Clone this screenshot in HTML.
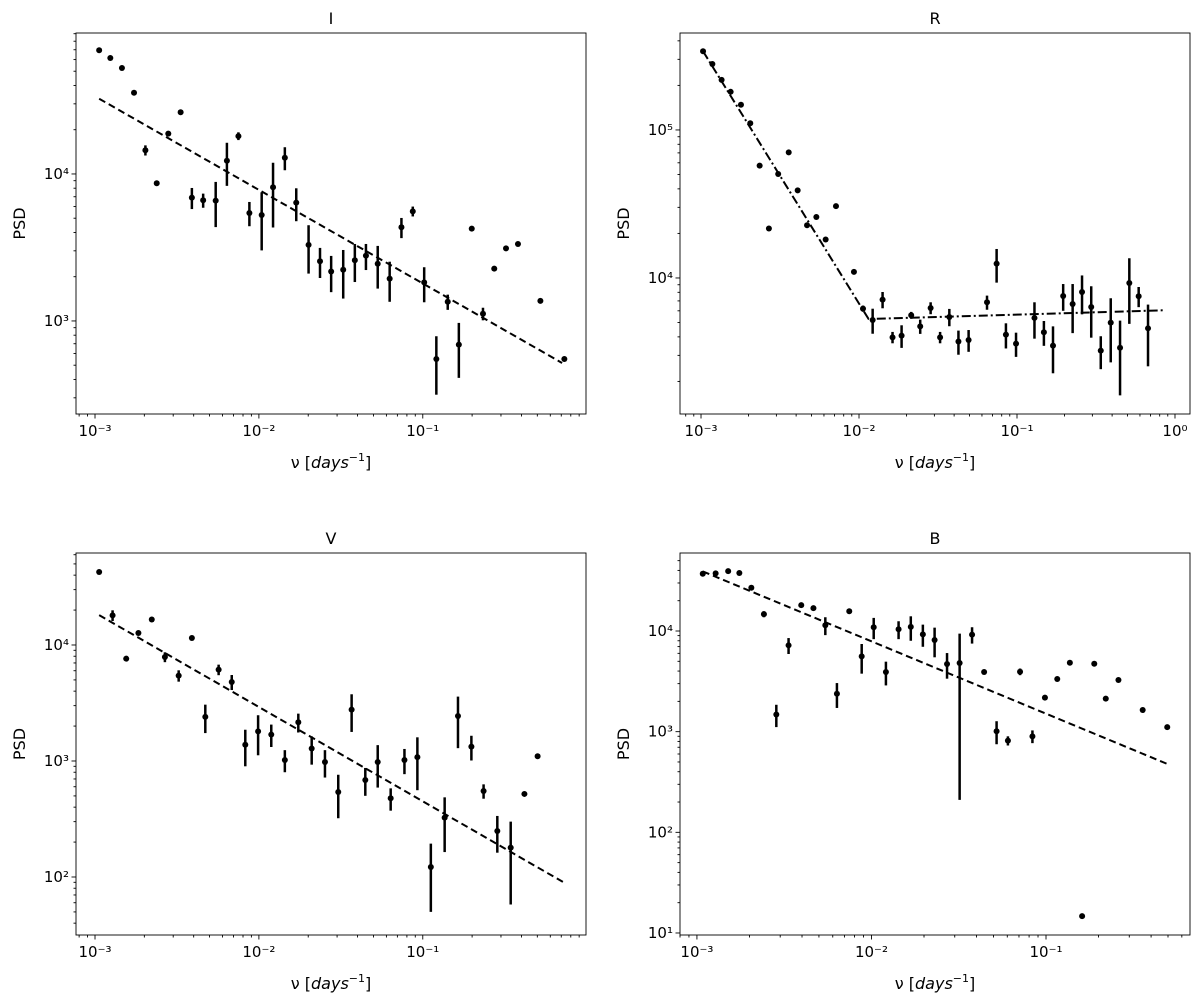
<!DOCTYPE html>
<html><head><meta charset="utf-8"><style>
body{margin:0;background:#fff;}
svg{display:block;font-family:"DejaVu Sans","Liberation Sans",sans-serif;}
</style></head><body>
<svg id="fig" width="1200" height="1005" viewBox="0 0 1200 1005" xmlns="http://www.w3.org/2000/svg"></svg>
<script>
// ---- Panel I ----
const iFreq=[1.06e-3,1.24e-3,1.46e-3,1.73e-3,2.03e-3,2.38e-3,2.80e-3,3.33e-3,3.90e-3,4.57e-3,5.45e-3,6.38e-3,7.50e-3,8.75e-3,1.04e-2,1.22e-2,1.44e-2,1.69e-2,2.01e-2,2.36e-2,2.76e-2,3.27e-2,3.85e-2,4.50e-2,5.31e-2,6.28e-2,7.41e-2,8.69e-2,0.102,0.121,0.142,0.166,0.199,0.233,0.273,0.322,0.381,0.522,0.731];
const iPsd=[69400,61500,52600,35700,14500,8640,18800,26300,6900,6620,6590,12300,18100,5430,5260,8120,12900,6380,3290,2550,2170,2230,2590,2780,2450,1940,4340,5570,1830,551,1350,690,4250,1120,2270,3120,3340,1370,551];
const iErr=[0,0,0,0,1150,0,0,0,1130,730,2240,4000,1100,1020,2240,3800,2300,1610,1190,590,600,810,750,560,790,590,680,430,490,236,160,280,0,110,0,0,0,0,0];
const iFitX=[0.00106,0.708];
const iFitY=[32500,518];
// ---- Panel R ----
const rFreq=[1.03e-3,1.18e-3,1.35e-3,1.54e-3,1.79e-3,2.05e-3,2.35e-3,2.69e-3,3.08e-3,3.59e-3,4.09e-3,4.69e-3,5.37e-3,6.15e-3,7.15e-3,9.29e-3,1.06e-2,1.22e-2,1.41e-2,1.63e-2,1.86e-2,2.14e-2,2.44e-2,2.84e-2,3.26e-2,3.73e-2,4.26e-2,4.94e-2,6.46e-2,7.43e-2,8.51e-2,9.86e-2,0.129,0.148,0.169,0.196,0.225,0.258,0.295,0.339,0.392,0.449,0.514,0.589,0.675];
const rPsd=[340000,279000,218000,181000,148000,111000,57400,21600,50400,70600,39100,22700,25800,18200,30600,11000,6210,5200,7140,3970,4080,5600,4710,6270,3970,5450,3720,3810,6850,12500,4140,3600,5370,4300,3490,7550,6670,8040,6370,3230,4990,3380,9250,7520,4570];
const rErr=[0,0,0,0,0,0,0,0,0,0,0,0,0,0,0,0,300,1000,900,350,710,300,520,580,350,730,690,640,750,3200,800,670,1480,820,1220,1550,2430,2360,2420,810,2300,1770,4350,1170,2040];
const rFitX=[1.03e-3,1.15e-2,0.843];
const rFitY=[340000,5280,6050];
// ---- Panel V ----
const vFreq=[1.06e-3,1.28e-3,1.55e-3,1.84e-3,2.22e-3,2.67e-3,3.24e-3,3.90e-3,4.71e-3,5.68e-3,6.83e-3,8.26e-3,9.89e-3,1.19e-2,1.44e-2,1.74e-2,2.10e-2,2.53e-2,3.05e-2,3.68e-2,4.46e-2,5.31e-2,6.37e-2,7.73e-2,9.27e-2,0.112,0.136,0.164,0.198,0.235,0.285,0.344,0.417,0.502];
const vPsd=[42600,18000,7620,12700,16600,7880,5440,11500,2400,6130,4800,1380,1800,1690,1020,2160,1280,980,541,2770,686,980,477,1020,1080,122,325,2440,1330,551,249,179,520,1100];
const vErr=[0,1900,0,0,0,770,610,0,660,640,710,480,680,370,220,400,350,260,220,990,185,390,104,250,520,72,161,1150,320,78,87,121,0,0];
const vFitX=[1.06e-3,0.724];
const vFitY=[18100,89.9];
// ---- Panel B ----
const bFreq=[1.08e-3,1.28e-3,1.51e-3,1.75e-3,2.05e-3,2.42e-3,2.85e-3,3.35e-3,3.96e-3,4.65e-3,5.44e-3,6.34e-3,7.46e-3,8.79e-3,1.03e-2,1.21e-2,1.43e-2,1.68e-2,1.97e-2,2.30e-2,2.71e-2,3.20e-2,3.77e-2,4.42e-2,5.21e-2,6.05e-2,7.10e-2,8.36e-2,9.86e-2,0.116,0.137,0.161,0.189,0.220,0.260,0.358,0.495];
const bPsd=[37100,37400,39400,37700,26900,14700,1480,7210,18100,16900,11400,2380,15700,5600,10900,3920,10400,11000,9270,8140,4700,4810,9200,3920,1010,814,3940,899,2180,3340,4840,14.7,4730,2130,3260,1640,1110];
const bErr=[0,0,0,0,0,1000,370,1300,0,0,2300,660,0,1830,2600,1040,2100,3000,2300,2660,1340,4600,1700,0,260,85,300,130,0,0,0,0,0,0,0,0,0];
const bFitX=[1.08e-3,0.491];
const bFitY=[39100,481];

const NS="http://www.w3.org/2000/svg";
const svg=document.getElementById('fig');
function mk(tag,attrs,parent){const e=document.createElementNS(NS,tag);for(const k in attrs)e.setAttribute(k,attrs[k]);(parent||svg).appendChild(e);return e;}
const sup={'-':'\u207B','0':'\u2070','1':'\u00B9','2':'\u00B2','3':'\u00B3','4':'\u2074','5':'\u2075'};
function panel(cfg){
  const g=mk('g',{});
  
  
  const L=cfg.box[0],T=cfg.box[1],R=cfg.box[2],B=cfg.box[3];
  const X=f=>L+(Math.log10(f)-cfg.xr[0])/(cfg.xr[1]-cfg.xr[0])*(R-L);
  const Y=p=>B-(Math.log10(p)-cfg.yr[0])/(cfg.yr[1]-cfg.yr[0])*(B-T);
  const clip='clip-'+cfg.name;
  const cp=mk('clipPath',{id:clip},g);mk('rect',{x:L,y:T,width:R-L,height:B-T},cp);
  for(let d=Math.floor(cfg.xr[0]);d<=Math.ceil(cfg.xr[1]);d++){
    for(let m=1;m<10;m++){
      const lv=d+Math.log10(m); if(lv<cfg.xr[0]||lv>cfg.xr[1])continue;
      const x=X(Math.pow(10,lv));
      const t=mk('line',{x1:x,x2:x,y1:B,y2:B+(m==1?4.5:2.5),stroke:'#000','stroke-width':0.9},g);
      
      
      if(m==1){const tx=mk('text',{x:x,y:B+22,'text-anchor':'middle','font-size':15},g);tx.textContent='10'+(''+d).split('').map(c=>sup[c]).join('');
        
        }
    }
  }
  for(let d=Math.floor(cfg.yr[0]);d<=Math.ceil(cfg.yr[1]);d++){
    for(let m=1;m<10;m++){
      const lv=d+Math.log10(m); if(lv<cfg.yr[0]||lv>cfg.yr[1])continue;
      const y=Y(Math.pow(10,lv));
      const t=mk('line',{x1:L,x2:L-(m==1?4.5:2.5),y1:y,y2:y,stroke:'#000','stroke-width':0.9},g);
      
      
      if(m==1){const tx=mk('text',{x:L-7,y:y+5,'text-anchor':'end','font-size':15},g);tx.textContent='10'+(''+d).split('').map(c=>sup[c]).join('');
        
        }
    }
  }
  const pg=mk('g',{'clip-path':'url(#'+clip+')'},g);
  const pts=cfg.fx.map((f,i)=>X(f)+','+Y(cfg.fy[i])).join(' ');
  const fl=mk('polyline',{points:pts,fill:'none',stroke:'#000','stroke-width':2,'stroke-dasharray':cfg.dash},pg);
  
  
  cfg.f.forEach((f,i)=>{
    const x=X(f),y=Y(cfg.p[i]),e=cfg.e[i];
    if(e>0){const lo=Math.max(cfg.p[i]-e,1e-3);
      const eb=mk('line',{x1:x,x2:x,y1:Y(cfg.p[i]+e),y2:Y(lo),stroke:'#000','stroke-width':2.5},pg);
      
      }
    const c=mk('circle',{cx:x,cy:y,r:3,fill:'#000'},pg);
    
    
  });
  const fr=mk('rect',{x:L,y:T,width:R-L,height:B-T,fill:'none',stroke:'#000','stroke-width':0.9},g);
  
  
  const ti=mk('text',{x:(L+R)/2,y:T-9,'text-anchor':'middle','font-size':16},g);ti.textContent=cfg.title;
  
  
  const yl=mk('text',{x:0,y:0,'text-anchor':'middle','font-size':16,transform:'translate('+(L-51)+','+((T+B)/2)+') rotate(-90)'},g);yl.textContent='PSD';
  
  
  const xl=mk('text',{x:(L+R)/2,y:B+54,'text-anchor':'middle','font-size':16},g);
  xl.innerHTML='ν [<tspan font-style="italic">days</tspan><tspan font-size="11" dy="-7">−1</tspan><tspan dy="7">]</tspan>';
  
  
}
panel({name:'i',title:'I',box:[76,33,586,414],xr:[-3.116,-0.004],yr:[2.367,4.959],f:iFreq,p:iPsd,e:iErr,fx:iFitX,fy:iFitY,dash:'7,4'});
panel({name:'r',title:'R',box:[680,33,1190,414],xr:[-3.133,0.095],yr:[3.081,5.655],f:rFreq,p:rPsd,e:rErr,fx:rFitX,fy:rFitY,dash:'9,3,2,3'});
panel({name:'v',title:'V',box:[76,553,586,935],xr:[-3.116,-0.004],yr:[1.5,4.793],f:vFreq,p:vPsd,e:vErr,fx:vFitX,fy:vFitY,dash:'7,4'});
panel({name:'b',title:'B',box:[680,553,1190,935],xr:[-3.097,-0.175],yr:[0.98,4.775],f:bFreq,p:bPsd,e:bErr,fx:bFitX,fy:bFitY,dash:'7,4'});
</script>
</body></html>
